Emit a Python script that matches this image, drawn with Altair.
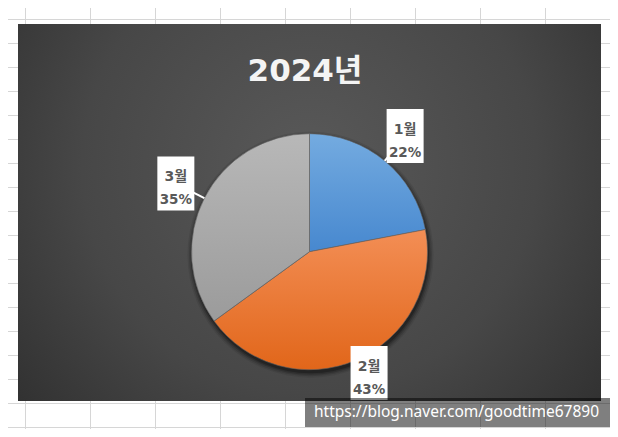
import math
import altair as alt
import pandas as pd

# ---------------- data ----------------
months = ["1월", "2월", "3월"]
shares = [22, 43, 35]
pct_labels = ["22%", "43%", "35%"]
title_text = "2024년"
watermark_text = "https://blog.naver.com/goodtime67890"

# ---------------- layout (px, chart coordinates; page = chart + 8) ----------------
W, H = 602, 421
CX, CY = 301.5, 243.7          # pie centre
R = 118                         # pie radius
LABEL_R = 150                   # radius of callout centres
BOX_W, BOX_H = 37, 54
PLOT_X0, PLOT_X1, PLOT_Y0, PLOT_Y1 = 10, 593, 16, 393
TOTAL = sum(shares)

slice_colors = {
    "1월": ("#74abe0", "#4788cf"),
    "2월": ("#f38e55", "#e1661a"),
    "3월": ("#b8b8b8", "#9b9b9b"),
}

df = pd.DataFrame({"month": months, "share": shares, "pct": pct_labels,
                   "idx": list(range(len(months)))})

base = alt.Chart(df).transform_window(
    cum="sum(share)", sort=[alt.SortField("idx")], frame=[None, 0]
).transform_calculate(
    start="datum.cum - datum.share",
    end="datum.cum",
    mid=f"(datum.cum - datum.share/2) / {TOTAL} * 2 * PI",
).transform_calculate(
    bx=f"{CX} + {LABEL_R} * sin(datum.mid)",
    by_raw=f"{CY} - {LABEL_R} * cos(datum.mid)",
    ex=f"{CX} + {R} * sin(datum.mid)",
    ey=f"{CY} - {R} * cos(datum.mid)",
).transform_calculate(
    by=f"min(datum.by_raw, {PLOT_Y1 - BOX_H/2 - 1})",
).transform_calculate(
    bx0=f"datum.bx - {BOX_W/2}", bx1=f"datum.bx + {BOX_W/2}",
    by0=f"datum.by - {BOX_H/2}", by1=f"datum.by + {BOX_H/2}",
)

one = pd.DataFrame({"k": [0]})

# ---------------- spreadsheet grid ----------------
vgrid = pd.DataFrame({"gx": [17.5 + 65 * k for k in range(9)]})
hgrid = pd.DataFrame({"gy": [11.5 + 24 * k for k in range(18)]})
grid_v = alt.Chart(vgrid).mark_rule(color="#d6d6d6", strokeWidth=1).encode(
    x=alt.X("gx:Q", scale=None))
grid_h = alt.Chart(hgrid).mark_rule(color="#d6d6d6", strokeWidth=1).encode(
    y=alt.Y("gy:Q", scale=None))

# ---------------- chart area ----------------
plot_bg = alt.Chart(one).mark_rect(
    color=alt.RadialGradient(
        gradient="radial", x1=0.5, y1=0.42, r1=0, x2=0.5, y2=0.42, r2=0.78,
        stops=[alt.GradientStop(color="#595959", offset=0),
               alt.GradientStop(color="#474747", offset=0.5),
               alt.GradientStop(color="#262626", offset=1)])
).encode(x=alt.value(PLOT_X0), x2=alt.value(PLOT_X1),
         y=alt.value(PLOT_Y0), y2=alt.value(PLOT_Y1))

# ---------------- pie shadow ----------------
shadows = [
    alt.Chart(one).mark_arc(theta=0, theta2=2 * math.pi, radius=R + dr,
                            color="black", opacity=op).encode(
        x=alt.value(CX + 1), y=alt.value(CY + 3))
    for dr, op in [(5, 0.08), (3.5, 0.12), (2, 0.18), (0.5, 0.25)]
]

# ---------------- slices ----------------
theta_scale = alt.Scale(domain=[0, TOTAL], range=[0, 2 * math.pi])


def slice_layer(m):
    top, bottom = slice_colors[m]
    return base.transform_filter(alt.datum.month == m).mark_arc(
        radius=R,
        color=alt.LinearGradient(
            gradient="linear", x1=0, y1=0, x2=0, y2=1,
            stops=[alt.GradientStop(color=top, offset=0),
                   alt.GradientStop(color=bottom, offset=1)]),
        stroke="#606060", strokeWidth=0.6,
    ).encode(
        theta=alt.Theta("start:Q", scale=theta_scale),
        theta2="end:Q",
        x=alt.value(CX), y=alt.value(CY),
    )


slices = [slice_layer(m) for m in months]

# ---------------- callouts ----------------
pointers = base.mark_rule(color="white", strokeWidth=2).encode(
    x=alt.X("bx:Q", scale=None), y=alt.Y("by:Q", scale=None),
    x2="ex:Q", y2="ey:Q")
boxes = base.mark_rect(color="white").encode(
    x=alt.X("bx0:Q", scale=None), x2="bx1:Q",
    y=alt.Y("by0:Q", scale=None), y2="by1:Q")
label_font = "DejaVu Sans, Noto Sans CJK KR"
lab1 = base.mark_text(font=label_font, fontSize=14, fontWeight="bold",
                      color="#595959", baseline="alphabetic", dy=-2.5).encode(
    x=alt.X("bx:Q", scale=None), y=alt.Y("by:Q", scale=None), text="month:N")
lab2 = base.mark_text(font=label_font, fontSize=13.5, fontWeight="bold",
                      color="#595959", baseline="alphabetic", dy=20.7).encode(
    x=alt.X("bx:Q", scale=None), y=alt.Y("by:Q", scale=None), text="pct:N")

# ---------------- title ----------------
title_font = "DejaVu Sans, Noto Sans CJK KR"
title = alt.Chart(one).mark_text(
    text=title_text, font=title_font, fontSize=31, fontWeight="bold",
    color="#f4f4f4", baseline="alphabetic").encode(
    x=alt.value(297), y=alt.value(73))

# ---------------- watermark ----------------
wm_box = alt.Chart(one).mark_rect(color="black", opacity=0.5).encode(
    x=alt.value(297), x2=alt.value(602), y=alt.value(390), y2=alt.value(419))
wm_text = alt.Chart(one).mark_text(
    text=watermark_text, font="Noto Sans", fontSize=15.5, color="white",
    baseline="alphabetic").encode(x=alt.value(448.5), y=alt.value(408.5))

chart = alt.layer(
    grid_v, grid_h, plot_bg, *shadows, *slices, pointers, boxes, lab1, lab2,
    title, wm_box, wm_text,
).properties(
    width=W, height=H, padding=0, autosize=alt.AutoSizeParams(type="none"),
    background="white",
).configure_view(stroke=None)

chart.save("out.html", embed_options={"renderer": "svg", "actions": False})
